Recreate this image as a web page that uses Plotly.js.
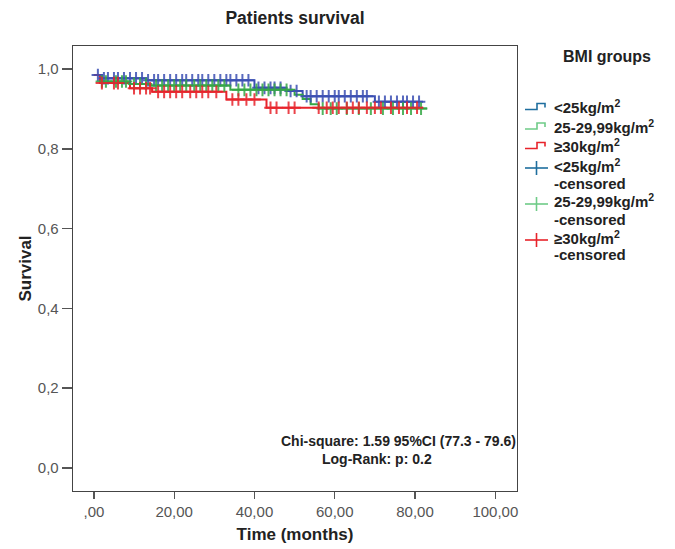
<!DOCTYPE html>
<html>
<head>
<meta charset="utf-8">
<script src="https://cdn.plot.ly/plotly-3.0.1.min.js"></script>
<style>html,body{margin:0;padding:0;background:#fff;}#chart{width:675px;height:549px;}</style>
</head>
<body>
<div id="chart"></div>
<script>
// ---- Data ----
const groupNames = ["<25kg/m<sup>2</sup>", "25-29,99kg/m<sup>2</sup>", "≥30kg/m<sup>2</sup>"];
const censorSuffix = "-censored";
const legendTitle = "BMI groups";

// Kaplan-Meier step points (time in months, survival)
const bmiLow_t = [0, 2, 13, 40, 48, 52, 70, 82];
const bmiLow_s = [0.985, 0.977, 0.972, 0.953, 0.945, 0.932, 0.918, 0.918];
const bmiMid_t = [0, 1.5, 9, 14, 34, 50, 52, 54, 56, 83];
const bmiMid_s = [0.985, 0.969, 0.963, 0.959, 0.948, 0.936, 0.925, 0.912, 0.901, 0.901];
const bmiHigh_t = [0, 1.5, 9, 14.5, 33, 43, 82];
const bmiHigh_s = [0.985, 0.965, 0.952, 0.943, 0.924, 0.903, 0.903];

// Censoring times
const bmiLow_cens = [1, 2.5, 3.5, 5, 6, 7.5, 9, 10.5, 12, 13.5, 15, 16, 17.5, 19, 20.5, 22, 23, 24.5, 26, 27, 28.5, 30, 31.5, 33, 34, 35.5, 37, 38.5, 41, 42.5, 44, 45, 46.5, 49, 50.5, 53, 54, 55.5, 57, 58.5, 60, 61, 62.5, 64, 65.5, 67, 68, 71, 72.5, 74, 75.5, 77, 78, 79.5, 81];
const bmiMid_cens = [2, 3, 5.5, 7, 8, 10, 11.5, 13, 15.5, 17, 18.5, 20, 21.5, 23, 25, 26.5, 28, 29.5, 31, 32.5, 36, 37.5, 39, 40.5, 42, 43.5, 45, 46.5, 48, 57, 59, 60.5, 63, 66, 69, 72, 74.5, 77, 79, 81.5];
const bmiHigh_cens = [2, 5, 6, 10, 11.5, 13, 14, 16, 17.5, 19, 20.5, 22, 24, 25.5, 27, 28.5, 30.5, 34.5, 36, 38, 40, 44, 45.5, 48.5, 50, 56, 58, 59.5, 61, 63, 64.5, 66, 68, 70, 71.5, 74, 76, 78, 80.5];

const xTickVals = [0, 20, 40, 60, 80, 100];
const xTickText = [",00", "20,00", "40,00", "60,00", "80,00", "100,00"];
const yTickVals = [0, 0.2, 0.4, 0.6, 0.8, 1.0];
const yTickText = ["0,0", "0,2", "0,4", "0,6", "0,8", "1,0"];
const statLine1 = "Chi-square: 1.59 95%CI (77.3 - 79.6)";
const statLine2 = "Log-Rank: p: 0.2";

// ---- Styles / layout geometry ----
const W = 675, H = 549;
const M = {l: 73, r: 158, t: 46, b: 58};
const PW = W - M.l - M.r, PH = H - M.t - M.b;
const px2x = p => (p - M.l) / PW;
const py2y = p => (H - M.b - p) / PH;
const curveColors = ["#3b4fb3", "#35a845", "#e8232b"];
const legendColors = ["#1f6e9e", "#6fcb88", "#e8232b"];
const FONT = "Liberation Sans, Arial, Helvetica, sans-serif";
const TXT = "#222";

function stepLookup(ts, ss, t) {
  let v = ss[0];
  for (let i = 0; i < ts.length; i++) { if (ts[i] <= t) v = ss[i]; }
  return v;
}

const curves = [[bmiLow_t, bmiLow_s, bmiLow_cens], [bmiMid_t, bmiMid_s, bmiMid_cens], [bmiHigh_t, bmiHigh_s, bmiHigh_cens]];
const traces = [];
curves.forEach((c, i) => {
  traces.push({x: c[0], y: c[1], mode: "lines", line: {shape: "hv", color: curveColors[i], width: 2}, showlegend: false, hoverinfo: "skip"});
});
curves.forEach((c, i) => {
  traces.push({x: c[2], y: c[2].map(t => stepLookup(c[0], c[1], t)), mode: "markers",
    marker: {symbol: "cross-thin", size: 9, line: {color: curveColors[i], width: 2}, color: curveColors[i]},
    opacity: 0.85, showlegend: false, hoverinfo: "skip"});
});

// ---- Manual legend (annotations + icon shapes) ----
const annotations = [];
const shapes = [];
const legX0 = 525, legX1 = 548, legTextX = 552;
const singleRows = [106.5, 126, 145.5];
const doubleRows = [165, 201, 237];
const lineGap = 18;
const legFont = {family: FONT, size: 15, weight: "bold", color: TXT};

annotations.push({text: legendTitle, xref: "paper", yref: "paper", x: px2x(607), y: py2y(56.5), xanchor: "center", yanchor: "middle",
  showarrow: false, font: {family: FONT, size: 16, weight: "bold", color: TXT}});

groupNames.forEach((n, i) => {
  const yy = singleRows[i];
  annotations.push({text: n, xref: "paper", yref: "paper", x: px2x(legTextX), y: py2y(yy), xanchor: "left", yanchor: "middle", showarrow: false, font: legFont});
  shapes.push({type: "path", xref: "paper", yref: "paper",
    path: `M${px2x(legX0)},${py2y(yy + 3)} L${px2x(537)},${py2y(yy + 3)} L${px2x(537)},${py2y(yy - 3)} L${px2x(545)},${py2y(yy - 3)} L${px2x(545)},${py2y(yy + 1)}`,
    line: {color: legendColors[i], width: 1.6}});
});
groupNames.forEach((n, i) => {
  const yy = doubleRows[i];
  annotations.push({text: n, xref: "paper", yref: "paper", x: px2x(legTextX), y: py2y(yy), xanchor: "left", yanchor: "middle", showarrow: false, font: legFont});
  annotations.push({text: censorSuffix, xref: "paper", yref: "paper", x: px2x(legTextX), y: py2y(yy + lineGap), xanchor: "left", yanchor: "middle", showarrow: false, font: legFont});
  shapes.push({type: "line", xref: "paper", yref: "paper", x0: px2x(legX0), x1: px2x(legX1), y0: py2y(yy + 3), y1: py2y(yy + 3), line: {color: legendColors[i], width: 1.6}});
  shapes.push({type: "line", xref: "paper", yref: "paper", x0: px2x(536.5), x1: px2x(536.5), y0: py2y(yy - 4), y1: py2y(yy + 10), line: {color: legendColors[i], width: 1.6}});
});

annotations.push({text: statLine1, xref: "paper", yref: "paper", x: px2x(398), y: py2y(441), xanchor: "center", yanchor: "middle", showarrow: false,
  font: {family: FONT, size: 14, weight: "bold", color: TXT}});
annotations.push({text: statLine2, xref: "paper", yref: "paper", x: px2x(377), y: py2y(459), xanchor: "center", yanchor: "middle", showarrow: false,
  font: {family: FONT, size: 14, weight: "bold", color: TXT}});

const layout = {
  width: W, height: H,
  margin: M,
  showlegend: false,
  paper_bgcolor: "#fff", plot_bgcolor: "#fff",
  font: {family: FONT, color: TXT},
  title: {text: "Patients survival", font: {family: FONT, size: 17.5, weight: "bold", color: TXT}, x: 0.437, xanchor: "center", y: 0.967, yanchor: "middle"},
  xaxis: {range: [-5.2, 105.4], tickvals: xTickVals, ticktext: xTickText, ticks: "outside", ticklen: 7, tickcolor: "#555", tickwidth: 1.3,
    showline: true, linecolor: "#444", linewidth: 1.3, mirror: true, showgrid: false, zeroline: false,
    tickfont: {family: FONT, size: 15, color: "#555"},
    title: {text: "Time (months)", font: {family: FONT, size: 17, weight: "bold", color: TXT}, standoff: 8}},
  yaxis: {range: [-0.058, 1.058], tickvals: yTickVals, ticktext: yTickText, ticks: "outside", ticklen: 10, tickcolor: "#555", tickwidth: 1.3,
    showline: true, linecolor: "#444", linewidth: 1.3, mirror: true, showgrid: false, zeroline: false,
    tickfont: {family: FONT, size: 15, color: "#555"},
    title: {text: "Survival", font: {family: FONT, size: 17, weight: "bold", color: TXT}, standoff: 2}},
  annotations: annotations,
  shapes: shapes
};

Plotly.newPlot("chart", traces, layout, {displayModeBar: false, staticPlot: true});
</script>
</body>
</html>
